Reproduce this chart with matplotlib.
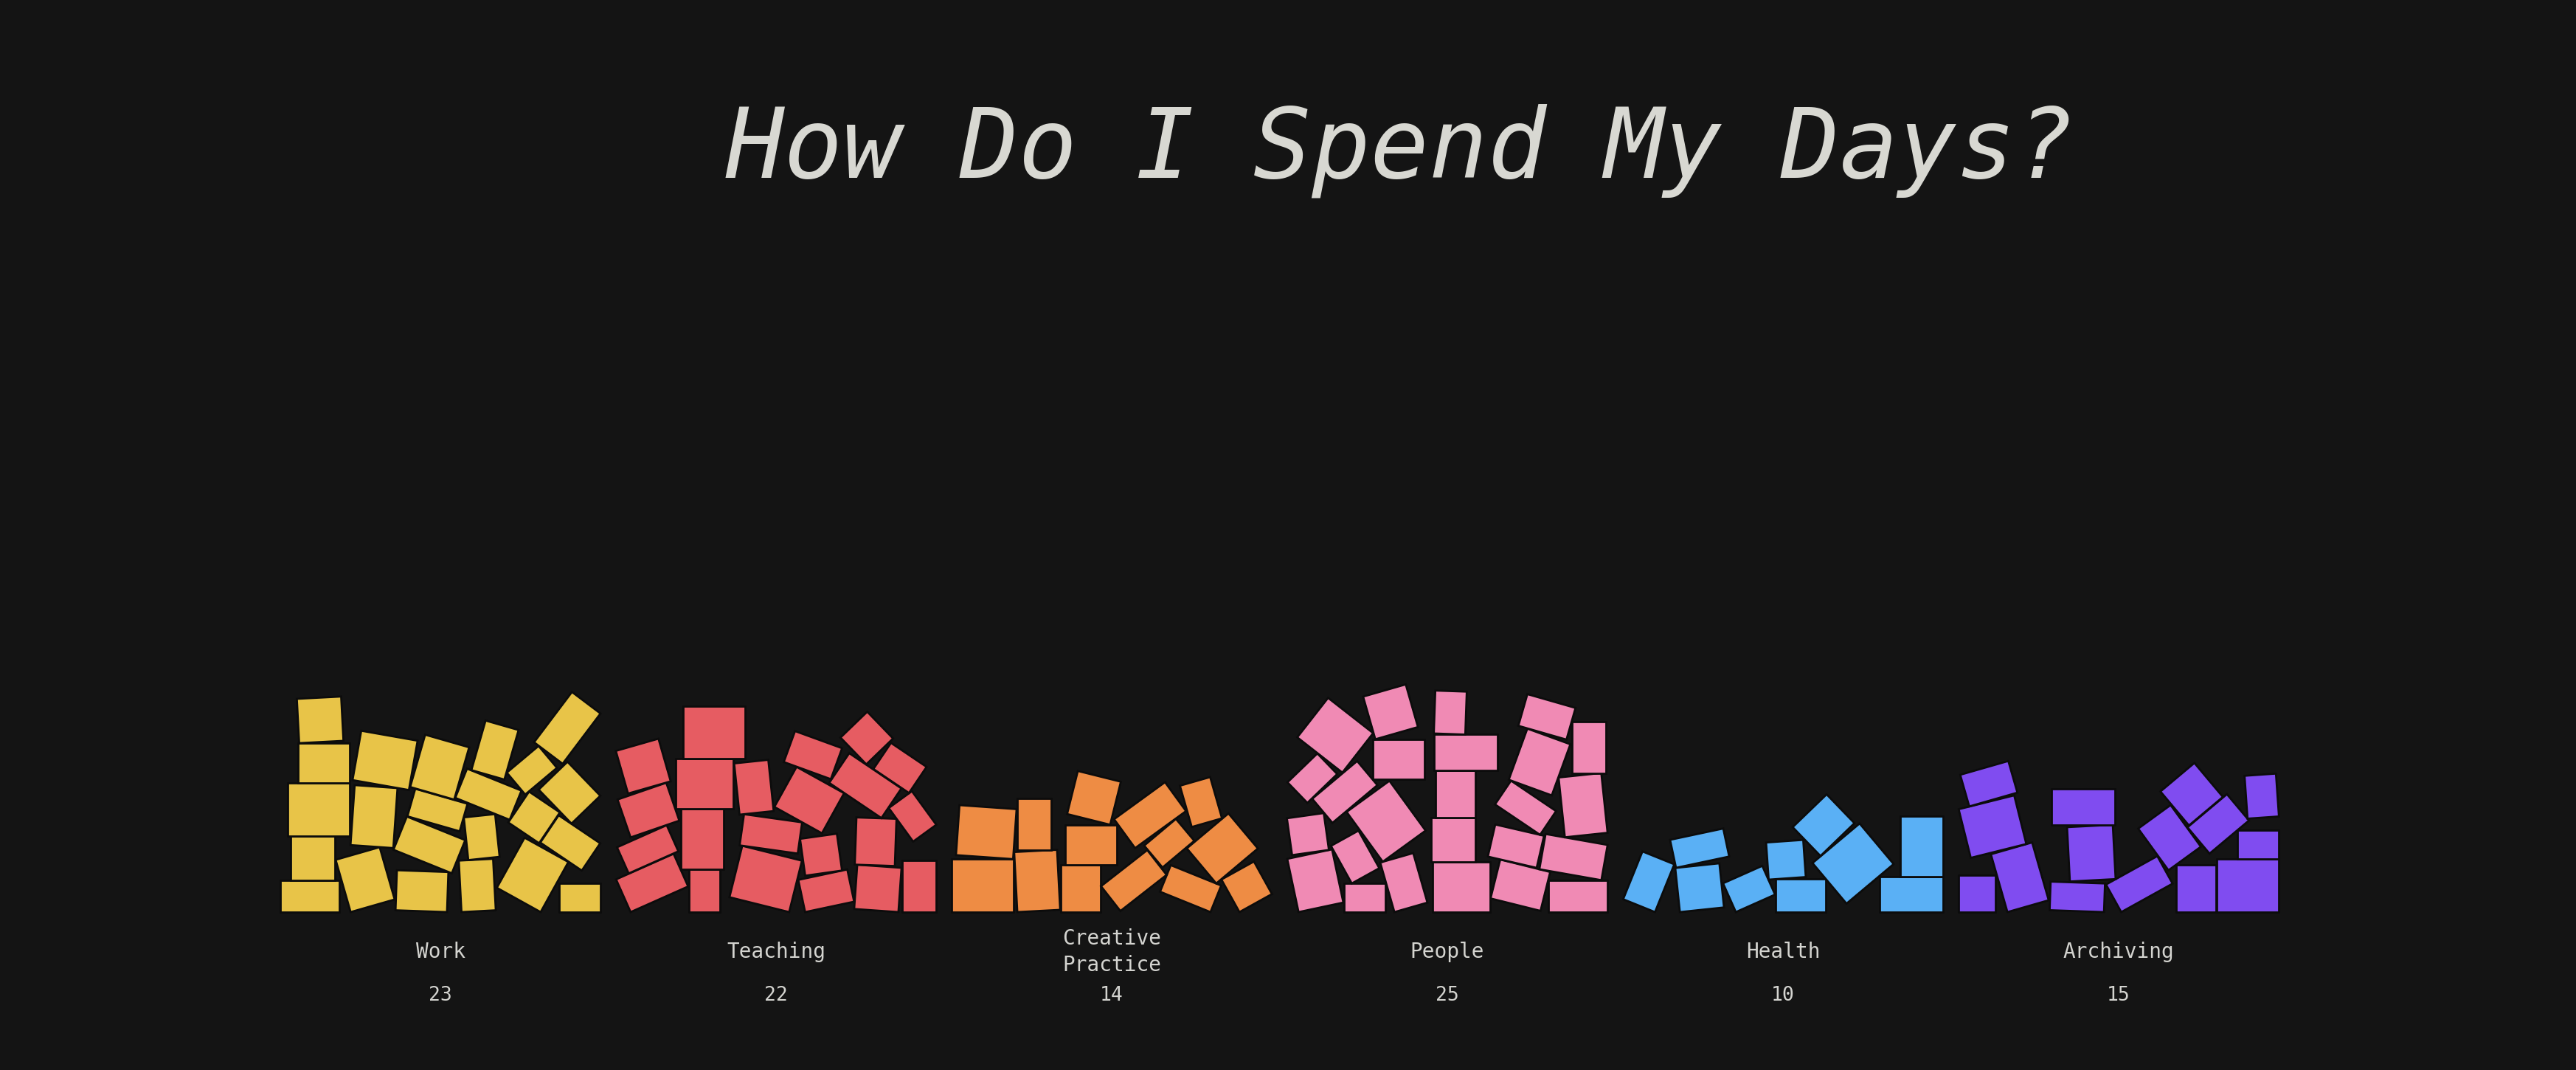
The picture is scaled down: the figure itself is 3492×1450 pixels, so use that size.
import matplotlib.pyplot as plt
import numpy as np
from matplotlib.patches import Polygon

categories = ["Work", "Teaching", "Creative\nPractice", "People", "Health", "Archiving"]
days = [23, 22, 14, 25, 10, 15]
colors = ["#E8C448", "#E65C62", "#EE8C44", "#F08AB4", "#5AB0F5", "#804CF0"]
title = "How Do I Spend My Days?"

BG = "#141414"
TEXT = "#D4D4D0"
W_PX, H_PX, DPI = 3492, 1450, 200

# layout (pixel space)
FIRST_CENTER = 597
SPACING = 455
PILE_W = 434
BASELINE = 1236
SCALE = 0.97

# one block per day: shapes and tilts are cycled through, just for looks
BLOCK_SHAPES = [(82, 44), (64, 76), (72, 56), (58, 40), (80, 70), (48, 72), (88, 50),
                (62, 62), (44, 60), (70, 46), (86, 74), (52, 52), (60, 84), (76, 40), (56, 66)]
BLOCK_TILTS = [0, 32, -18, 0, 45, 3, -38, 0, 22, -50, 0, 40, -4, 0, 28, -30, 0]
TILT_NUDGE = [-16, -8, 0, 8, 16]


def block_corners(w, h, deg):
    t = np.deg2rad(deg)
    rot = np.array([[np.cos(t), -np.sin(t)], [np.sin(t), np.cos(t)]])
    pts = np.array([[-w / 2, -h / 2], [w / 2, -h / 2], [w / 2, h / 2], [-w / 2, h / 2]])
    return pts @ rot.T


def block_profile(corners):
    closed = np.vstack([corners, corners[:1]])
    pts = np.vstack([np.linspace(closed[k], closed[k + 1], 200) for k in range(4)])
    xmin = np.floor(pts[:, 0].min())
    xmax = np.ceil(pts[:, 0].max())
    cols = np.arange(xmin, xmax + 1).astype(int)
    idx = np.round(pts[:, 0] - xmin).astype(int)
    lo = np.full(len(cols), np.inf)
    hi = np.full(len(cols), -np.inf)
    np.minimum.at(lo, idx, pts[:, 1])
    np.maximum.at(hi, idx, pts[:, 1])
    ok = np.isfinite(lo)
    return cols[ok], lo[ok], hi[ok]


def stack_pile(n, width, offset):
    ground = np.zeros(width + 1)
    blocks = []
    for i in range(n):
        w, h = BLOCK_SHAPES[(i + offset) % len(BLOCK_SHAPES)]
        base = BLOCK_TILTS[(i + 2 * offset) % len(BLOCK_TILTS)]
        from_left = (i + offset) % 2 == 0
        best = None
        for nudge in TILT_NUDGE:
            corners = block_corners(w * SCALE, h * SCALE, base + nudge)
            cols, lo, hi = block_profile(corners)
            cxs = np.arange(-cols.min(), width - cols.max() + 1)
            under = ground[cols[None, :] + cxs[:, None]]
            cys = np.max(under - lo[None, :], axis=1)
            gaps = np.mean(cys[:, None] + lo[None, :] - under, axis=1)
            scores = cys + 1.0 * gaps + 0.12 * abs(nudge)
            sides = cxs if from_left else width - cxs
            order = np.lexsort((sides, np.round(scores / 3)))
            j = order[0]
            key = (round(scores[j] / 3), sides[j])
            if best is None or key < best[0]:
                best = (key, corners, cols, hi, cxs[j], cys[j])
        _, corners, cols, hi, cx, cy = best
        c = cols + cx
        ground[c] = np.maximum(ground[c], cy + hi)
        blocks.append(corners + [cx, cy])
    return blocks


fig = plt.figure(figsize=(W_PX / DPI, H_PX / DPI), dpi=DPI, facecolor=BG)
ax = fig.add_axes([0, 0, 1, 1])
ax.set_facecolor(BG)
ax.set_xlim(0, W_PX)
ax.set_ylim(H_PX, 0)
ax.axis("off")

for k, (label, n, col) in enumerate(zip(categories, days, colors)):
    center = FIRST_CENTER + SPACING * k
    left = center - PILE_W / 2
    for blk in stack_pile(n, PILE_W, k * 5):
        xy = np.column_stack([left + blk[:, 0], BASELINE - blk[:, 1]])
        ax.add_patch(Polygon(xy, closed=True, facecolor=col, edgecolor="#0c0c0c",
                             linewidth=1.0, joinstyle="miter"))
    ax.text(center, 1290, label, ha="center", va="center", color=TEXT,
            fontsize=10, family="DejaVu Sans Mono", linespacing=1.35)
    ax.text(center, 1349, str(n), ha="center", va="center", color=TEXT,
            fontsize=9.5, family="DejaVu Sans Mono")

ax.text(1898, 240, title, ha="center", va="baseline", color="#D8D8D2",
        fontsize=47.5, family="DejaVu Sans Mono", style="oblique")

fig.savefig("out.png", dpi=DPI, facecolor=BG)
